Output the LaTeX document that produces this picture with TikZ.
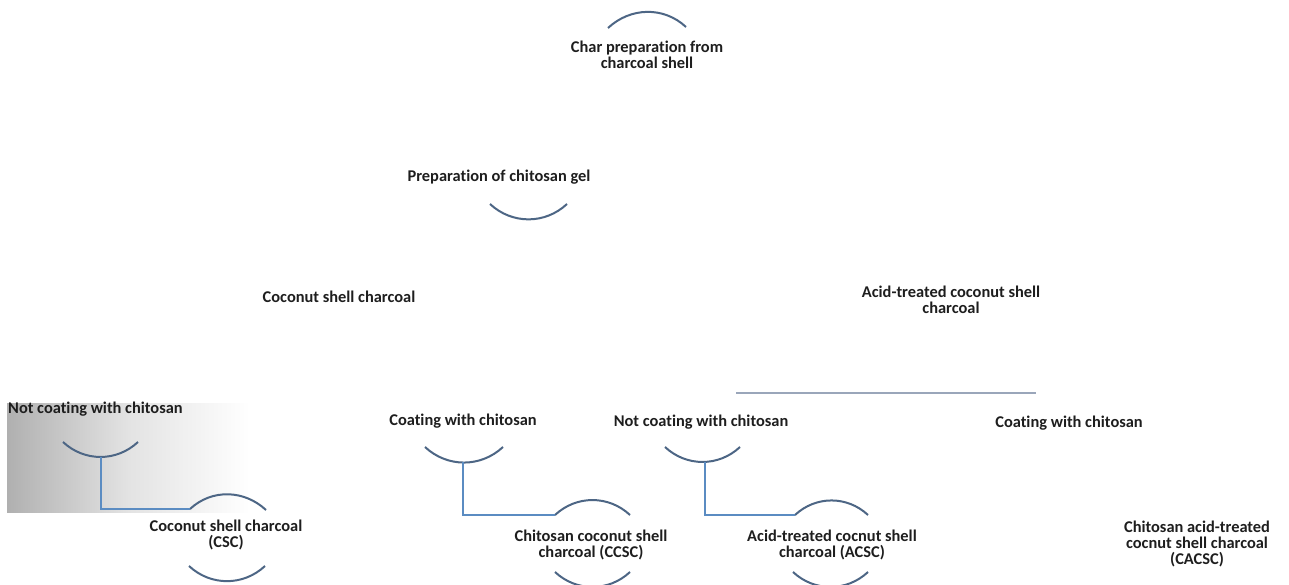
\documentclass[tikz,border=0pt]{standalone}
\usepackage{fontspec}
\setmainfont{Carlito}[Ligatures=NoCommon]
\definecolor{arccol}{HTML}{4D6685}
\definecolor{linkcol}{HTML}{5B8CC2}
\definecolor{rulecol}{HTML}{9AA6BA}
\definecolor{txtcol}{HTML}{1E1E1E}
\begin{document}
\begin{tikzpicture}[x=1pt,y=-1pt,
  lbl/.style={font=\bfseries\fontsize{16.4}{16}\selectfont,text=txtcol,align=center,inner sep=0pt},
  arcline/.style={draw=arccol,line width=2pt},
  humparc/.style={out=43,in=137},
  smilearc/.style={out=-43,in=-137},
  linkline/.style={draw=linkcol,line width=1.8pt},
  ruleline/.style={draw=rulecol,line width=2pt}]
\useasboundingbox[fill=white] (0,0) rectangle (1289,585);
% gray shaded panel
\shade[left color=black!31,right color=white,middle color=black!11] (7,403) rectangle (250,512);

% texts
\node[lbl] (char) at (647,55) {Char preparation from\\charcoal shell};
\node[lbl] (gel) at (499,177) {Preparation of chitosan gel};
\node[lbl] (csc0) at (339,297) {Coconut shell charcoal};
\node[lbl] (acid0) at (951,300) {Acid-treated coconut shell\\charcoal};
\node[lbl,anchor=west] (nc1) at (8,409) {Not coating with chitosan};
\node[lbl] (c1) at (463,421) {Coating with chitosan};
\node[lbl] (nc2) at (701,422) {Not coating with chitosan};
\node[lbl] (c2) at (1069,423) {Coating with chitosan};
\node[lbl] (csc) at (226,535) {Coconut shell charcoal\\(CSC)};
\node[lbl] (ccsc) at (591,545) {Chitosan coconut shell\\charcoal (CCSC)};
\node[lbl] (acsc) at (832,545) {Acid-treated cocnut shell\\charcoal (ACSC)};
\node[lbl] (cacsc) at (1197,544) {Chitosan acid-treated\\cocnut shell charcoal\\(CACSC)};

% arc end points
\coordinate (t1) at (608,28);   \coordinate (t2) at (686,27);
\coordinate (g1) at (490,204);  \coordinate (g2) at (567,204);
% group 1
\coordinate (a1) at (63,442);   \coordinate (a2) at (138,442);
\coordinate (v1) at (101,457);  \coordinate (h1) at (101,509);
\coordinate (b1) at (190,509);  \coordinate (b2) at (266,510);
\coordinate (d1) at (189,566);  \coordinate (d2) at (265,566);
% group 2
\coordinate (e1) at (425,447);  \coordinate (e2) at (503,447);
\coordinate (v2) at (463,462);  \coordinate (h2) at (463,515);
\coordinate (f1) at (555,515);  \coordinate (f2) at (630,515);
\coordinate (k1) at (555,572);  \coordinate (k2) at (630,572);
% group 3
\coordinate (m1) at (665,447);  \coordinate (m2) at (740,447);
\coordinate (v3) at (705,462);  \coordinate (h3) at (705,515);
\coordinate (n1) at (795,515);  \coordinate (n2) at (868,515);
\coordinate (p1) at (793,572);  \coordinate (p2) at (868,572);
% rule
\coordinate (r1) at (736,393);  \coordinate (r2) at (1036,393);

% arcs
\draw[arcline] (t1) to[humparc] (t2);
\draw[arcline] (g1) to[smilearc] (g2);
\draw[arcline] (a1) to[smilearc] (a2);
\draw[arcline] (b1) to[humparc] (b2);
\draw[arcline] (d1) to[smilearc] (d2);
\draw[arcline] (e1) to[smilearc] (e2);
\draw[arcline] (f1) to[humparc] (f2);
\draw[arcline] (k1) to[smilearc] (k2);
\draw[arcline] (m1) to[smilearc] (m2);
\draw[arcline] (n1) to[humparc] (n2);
\draw[arcline] (p1) to[smilearc] (p2);

% connectors
\draw[linkline] (v1) -- (h1) -- (b1);
\draw[linkline] (v2) -- (h2) -- (f1);
\draw[linkline] (v3) -- (h3) -- (n1);
\draw[ruleline] (r1) -- (r2);
\end{tikzpicture}
\end{document}
